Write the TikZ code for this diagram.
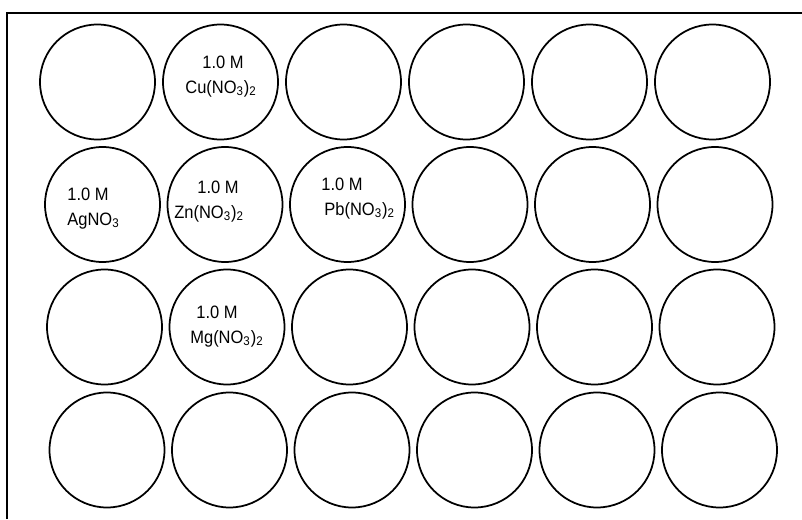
\documentclass[tikz,border=0pt]{standalone}
\usepackage{fontspec}
\setmainfont{Liberation Sans}
\newfontfamily\wellfont[FakeStretch=0.92]{Liberation Sans}
\usepackage{tikz}
\usetikzlibrary{positioning}

\begin{document}
\begin{tikzpicture}[
  well/.style={draw=black, line width=1pt, circle, inner sep=0pt, minimum size=2.3cm},
  soln/.style={inner sep=0pt, anchor=north west, align=left, font=\wellfont\fontsize{10.2}{13.8}\selectfont},
]
  \useasboundingbox (0,0) rectangle (16.04,10.38);
  % tray edge
  \draw[line width=1.2pt] (0.14,0) -- (0.14,10.12) -- (16.04,10.12);

  % Row 1
  \node[well] (r1c1) at (1.95, 8.74)  {};
  \node[well] (r1c2) at (4.41, 8.74)  {};
  \node[well] (r1c3) at (6.87, 8.74)  {};
  \node[well] (r1c4) at (9.33, 8.74)  {};
  \node[well] (r1c5) at (11.79, 8.74) {};
  \node[well] (r1c6) at (14.25, 8.74) {};

  % Row 2
  \node[well] (r2c1) at (2.05, 6.29)  {};
  \node[well] (r2c2) at (4.50, 6.29)  {};
  \node[well] (r2c3) at (6.95, 6.29)  {};
  \node[well] (r2c4) at (9.40, 6.29)  {};
  \node[well] (r2c5) at (11.85, 6.29) {};
  \node[well] (r2c6) at (14.30, 6.29) {};

  % Row 3
  \node[well] (r3c1) at (2.09, 3.84)  {};
  \node[well] (r3c2) at (4.54, 3.84)  {};
  \node[well] (r3c3) at (6.99, 3.84)  {};
  \node[well] (r3c4) at (9.44, 3.84)  {};
  \node[well] (r3c5) at (11.89, 3.84) {};
  \node[well] (r3c6) at (14.34, 3.84) {};

  % Row 4
  \node[well] (r4c1) at (2.14, 1.38)  {};
  \node[well] (r4c2) at (4.59, 1.38)  {};
  \node[well] (r4c3) at (7.04, 1.38)  {};
  \node[well] (r4c4) at (9.49, 1.38)  {};
  \node[well] (r4c5) at (11.94, 1.38) {};
  \node[well] (r4c6) at (14.39, 1.38) {};

  % solutions
  \node[soln] (cu) at (3.70, 9.26) {\hspace*{0.34cm}1.0 M\\Cu(NO\textsubscript{3})\textsubscript{2}};
  \node[soln] (ag) at (1.34, 6.62) {1.0 M\\AgNO\textsubscript{3}};
  \node[soln] (zn) at (3.48, 6.76) {\hspace*{0.46cm}1.0 M\\Zn(NO\textsubscript{3})\textsubscript{2}};
  \node[soln] (pb) at (6.42, 6.82) {1.0 M\\\hspace*{0.06cm}Pb(NO\textsubscript{3})\textsubscript{2}};
  \node[soln] (mg) at (3.80, 4.26) {\hspace*{0.12cm}1.0 M\\Mg(NO\textsubscript{3})\textsubscript{2}};
\end{tikzpicture}
\end{document}
